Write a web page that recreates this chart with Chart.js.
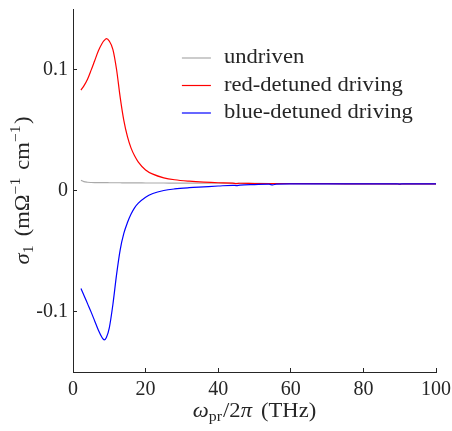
<!DOCTYPE html>
<html>
<head>
<meta charset="utf-8">
<script src="https://cdn.jsdelivr.net/npm/chart.js@4.4.0/dist/chart.umd.min.js"></script>
<style>
  html, body { margin: 0; padding: 0; background: #fff; }
</style>
</head>
<body>
<canvas id="sigma" width="452" height="431"></canvas>
<script>
// probe frequency (THz) and sigma_1 values
const freq = [2.2, 3, 4, 5, 6, 7, 8, 8.6, 9.2, 10, 11, 12, 13, 14, 15, 16, 17, 18, 20, 22,
              25, 28, 32, 36, 40, 44, 45, 46, 50, 54, 55, 56, 60, 70, 80, 89, 90, 91, 100];
const undriven = [0.0085, 0.0073, 0.0068, 0.0066, 0.0065, 0.0065, 0.0065, 0.0065, 0.0065, 0.0064,
                  0.0064, 0.0064, 0.0064, 0.0063, 0.0063, 0.0063, 0.0063, 0.0063, 0.0062, 0.0062,
                  0.0062, 0.0061, 0.0061, 0.0060, 0.0060, 0.0060, 0.0060, 0.0060, 0.0059, 0.0058,
                  0.0058, 0.0058, 0.0058, 0.0057, 0.0056, 0.0055, 0.0055, 0.0055, 0.0055];
const redDetuned = [0.083, 0.0865, 0.092, 0.0995, 0.1075, 0.1155, 0.1215, 0.124, 0.1255, 0.1235,
                    0.1165, 0.100, 0.077, 0.058, 0.0445, 0.035, 0.0285, 0.0235, 0.017, 0.0135,
                    0.0105, 0.0089, 0.0077, 0.0069, 0.0064, 0.0061, 0.0057, 0.0060, 0.0058, 0.0057,
                    0.0056, 0.0057, 0.0056, 0.0056, 0.0055, 0.0055, 0.0052, 0.0055, 0.0055];
const blueDetuned = [-0.081, -0.0865, -0.0935, -0.1005, -0.108, -0.1155, -0.1215, -0.1235, -0.1215, -0.1135,
                     -0.094, -0.0695, -0.049, -0.0355, -0.0265, -0.0195, -0.0142, -0.0105, -0.0055, -0.0025,
                     0.0000, 0.0013, 0.0023, 0.0030, 0.0037, 0.0043, 0.0041, 0.0045, 0.0049, 0.0052,
                     0.0046, 0.0053, 0.0054, 0.0055, 0.0055, 0.0055, 0.0053, 0.0055, 0.0055];

const xTicks = [0, 20, 40, 60, 80, 100];
const yTicks = [-0.1, 0, 0.1];
const seriesNames = ['undriven', 'red-detuned driving', 'blue-detuned driving'];
const seriesColors = ['#aaaaaa', '#ff0000', '#0000ff'];

const SERIF = "'Liberation Serif', 'DejaVu Serif', serif";
const AXIS_COLOR = '#262626';
const STRETCH = 1.13;   // the figure text is a bit wide

function points(ys) {
    return freq.map((x, i) => ({ x: x, y: ys[i] }));
}

// draws a run of text pieces centred on the origin, some raised or lowered
function richText(ctx, parts, size) {
    let w = 0;
    parts.forEach(p => {
        const s = p.sub || p.sup ? size * 0.7 : size;
        ctx.font = (p.it ? 'italic ' : '') + s + 'px ' + SERIF;
        p.w = ctx.measureText(p.t).width + (p.gap || 0);
        p.s = s;
        w += p.w;
    });
    let x = -w / 2;
    parts.forEach(p => {
        ctx.font = (p.it ? 'italic ' : '') + p.s + 'px ' + SERIF;
        let dy = 0;
        if (p.sub) dy = size * 0.25;
        if (p.sup) dy = -size * 0.38;
        ctx.fillText(p.t, x, dy);
        x += p.w;
    });
}

const decorations = {
    id: 'decorations',
    afterDraw(chart) {
        const ctx = chart.ctx;
        const area = chart.chartArea;
        ctx.save();
        ctx.fillStyle = AXIS_COLOR;
        ctx.textBaseline = 'middle';
        ctx.textAlign = 'left';

        // x title
        ctx.save();
        ctx.translate((area.left + area.right) / 2, area.bottom + 40);
        ctx.scale(STRETCH, 1);
        richText(ctx, [
            { t: 'ω', it: true }, { t: 'pr', sub: true, gap: 1 }, { t: '/2' },
            { t: 'π', it: true, gap: 3 }, { t: ' (THz)' }
        ], 20);
        ctx.restore();

        // y title
        ctx.save();
        ctx.translate(area.left - 49, (area.top + area.bottom) / 2);
        ctx.rotate(-Math.PI / 2);
        ctx.scale(STRETCH, 1);
        richText(ctx, [
            { t: 'σ', it: true }, { t: '1', sub: true, gap: 3 }, { t: ' (mΩ' },
            { t: '−1', sup: true, gap: 2 }, { t: ' cm' }, { t: '−1', sup: true, gap: 1 }, { t: ')' }
        ], 20);
        ctx.restore();

        // legend
        const w = area.right - area.left;
        const lx = area.left + w * 0.30;
        chart.data.datasets.forEach((ds, i) => {
            const y = area.top + 49 + i * 27.5;
            ctx.strokeStyle = ds.borderColor;
            ctx.lineWidth = 1.2;
            ctx.beginPath();
            ctx.moveTo(lx, y);
            ctx.lineTo(lx + 29, y);
            ctx.stroke();
            ctx.save();
            ctx.translate(lx + 42, y);
            ctx.scale(STRETCH, 1);
            ctx.font = '20px ' + SERIF;
            ctx.fillStyle = AXIS_COLOR;
            ctx.fillText(ds.label, 0, 0);
            ctx.restore();
        });
        ctx.restore();
    }
};

const ctx = document.getElementById('sigma').getContext('2d');
new Chart(ctx, {
    type: 'line',
    data: {
        datasets: seriesNames.map((name, i) => ({
            label: name,
            data: points([undriven, redDetuned, blueDetuned][i]),
            borderColor: seriesColors[i],
            backgroundColor: seriesColors[i],
            borderWidth: 1.2,
            pointRadius: 0,
            cubicInterpolationMode: 'monotone',
            order: 2 - i
        }))
    },
    options: {
        responsive: false,
        animation: false,
        layout: { padding: { top: 9, right: 16, left: 0, bottom: 0 } },
        plugins: {
            legend: { display: false },
            tooltip: { enabled: false }
        },
        scales: {
            x: {
                type: 'linear',
                min: 0,
                max: 100,
                afterBuildTicks: s => { s.ticks = xTicks.map(v => ({ value: v })); },
                afterFit: s => { s.height = 59; s.paddingLeft = 0; s.paddingRight = 0; },
                grid: { drawOnChartArea: false, tickLength: -4, color: AXIS_COLOR },
                border: { color: AXIS_COLOR, width: 1 },
                ticks: {
                    color: AXIS_COLOR,
                    padding: 10,
                    maxRotation: 0,
                    font: { family: SERIF, size: 20 },
                    callback: v => String(v)
                }
            },
            y: {
                type: 'linear',
                min: -0.15,
                max: 0.15,
                afterBuildTicks: s => { s.ticks = yTicks.map(v => ({ value: v })); },
                afterFit: s => { s.width = 73; s.paddingTop = 0; s.paddingBottom = 0; },
                grid: { drawOnChartArea: false, tickLength: -4, color: AXIS_COLOR },
                border: { color: AXIS_COLOR, width: 1 },
                ticks: {
                    color: AXIS_COLOR,
                    padding: 9,
                    font: { family: SERIF, size: 20 },
                    callback: v => (v === 0 ? '0' : String(v))
                }
            }
        }
    },
    plugins: [decorations]
});
</script>
</body>
</html>
